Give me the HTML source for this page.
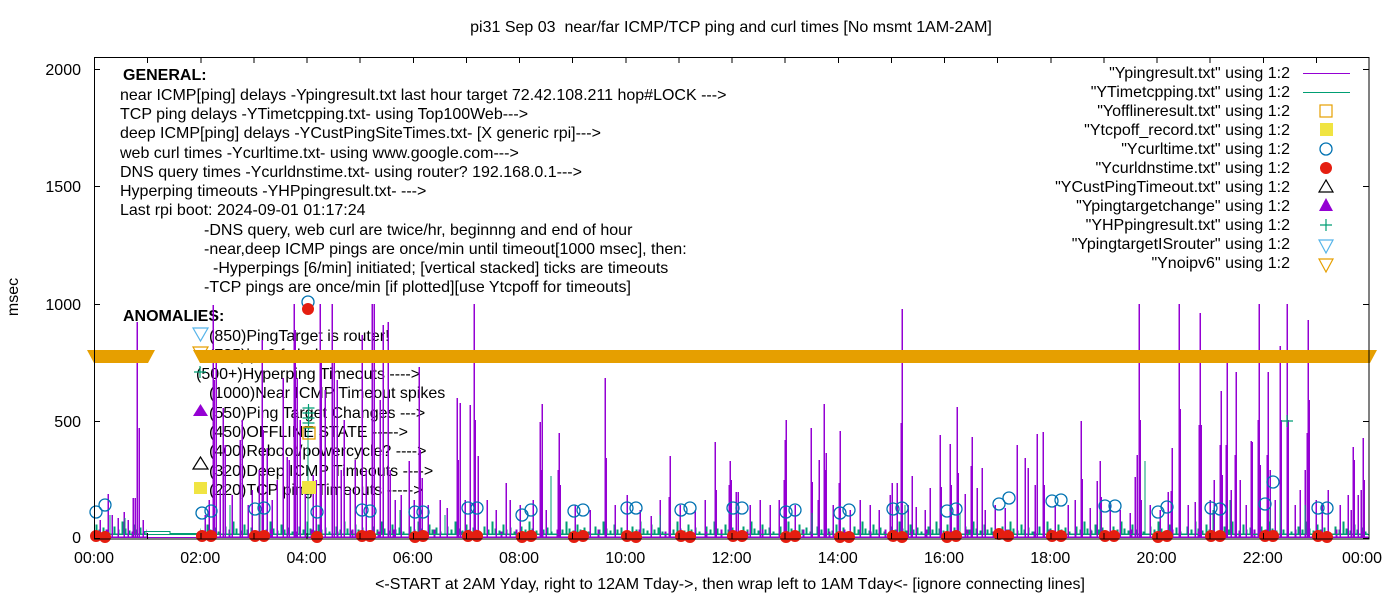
<!DOCTYPE html>
<html><head><meta charset="utf-8"><style>
html,body{margin:0;padding:0;background:#fff;}
svg{display:block;}
text{font-family:"Liberation Sans",Arial,sans-serif;font-size:16px;fill:#000;white-space:pre;}
</style></head><body>
<svg width="1400" height="600" viewBox="0 0 1400 600" xmlns="http://www.w3.org/2000/svg">
<defs>
<pattern id="gn" patternUnits="userSpaceOnUse" x="0" y="500" width="37" height="40">
<path d="M0 34 H3 V27 H4 V34 H7 V30 H8 V34 H11 V22 H12 V34 H14 V29 H15 V34 H18 V31 H19 V34 H22 V25 H23 V34 H25 V30 H26 V34 H29 V28 H30 V34 H33 V32 H34 V34 H37" fill="none" stroke="#009E73" stroke-width="1" shape-rendering="crispEdges"/>
</pattern>
<pattern id="pn" patternUnits="userSpaceOnUse" x="0" y="500" width="41" height="40">
<path d="M0 37 H9 V32 H10 V37 H24 V30 H25 V37 H41" fill="none" stroke="#9400D3" stroke-width="1" shape-rendering="crispEdges"/>
</pattern>
</defs>
<rect width="1400" height="600" fill="#fff"/>

<!-- title and axis labels -->
<text x="731" y="32" text-anchor="middle">pi31 Sep 03  near/far ICMP/TCP ping and curl times [No msmt 1AM-2AM]</text>
<text x="730" y="589" text-anchor="middle">&lt;-START at 2AM Yday, right to 12AM Tday-&gt;, then wrap left to 1AM Tday&lt;- [ignore connecting lines]</text>
<text transform="translate(18,297) rotate(-90)" text-anchor="middle">msec</text>

<!-- y tick labels -->
<text x="81" y="75" text-anchor="end">2000</text>
<text x="81" y="192" text-anchor="end">1500</text>
<text x="81" y="310" text-anchor="end">1000</text>
<text x="81" y="427" text-anchor="end">500</text>
<text x="81" y="543" text-anchor="end">0</text>

<!-- x tick labels -->
<g text-anchor="middle">
<text x="94" y="563">00:00</text>
<text x="200.25" y="563">02:00</text>
<text x="306.5" y="563">04:00</text>
<text x="412.75" y="563">06:00</text>
<text x="519" y="563">08:00</text>
<text x="625.25" y="563">10:00</text>
<text x="731.5" y="563">12:00</text>
<text x="837.75" y="563">14:00</text>
<text x="944" y="563">16:00</text>
<text x="1050.25" y="563">18:00</text>
<text x="1156.5" y="563">20:00</text>
<text x="1262.75" y="563">22:00</text>
<text x="1362" y="563">00:00</text>
</g>

<!-- info text -->
<text x="123" y="80" font-weight="bold">GENERAL:</text>
<text x="120" y="100">near ICMP[ping] delays -Ypingresult.txt last hour target 72.42.108.211 hop#LOCK ---&gt;</text>
<text x="120" y="119">TCP ping delays -YTimetcpping.txt- using Top100Web---&gt;</text>
<text x="120" y="138">deep ICMP[ping] delays -YCustPingSiteTimes.txt- [X generic rpi]---&gt;</text>
<text x="120" y="158">web curl times -Ycurltime.txt- using www.google.com---&gt;</text>
<text x="120" y="177">DNS query times -Ycurldnstime.txt- using router? 192.168.0.1---&gt;</text>
<text x="120" y="196">Hyperping timeouts -YHPpingresult.txt- ---&gt;</text>
<text x="120" y="215">Last rpi boot: 2024-09-01 01:17:24</text>
<text x="204" y="235">-DNS query, web curl are twice/hr, beginnng and end of hour</text>
<text x="204" y="254">-near,deep ICMP pings are once/min until timeout[1000 msec], then:</text>
<text x="213" y="273">-Hyperpings [6/min] initiated; [vertical stacked] ticks are timeouts</text>
<text x="204" y="292">-TCP pings are once/min [if plotted][use Ytcpoff for timeouts]</text>
<text x="123" y="321" font-weight="bold">ANOMALIES:</text>
<text x="209" y="341">(850)PingTarget is router!</text>
<text x="209" y="360">(785)ipv6 failed ----&gt;</text>
<text x="196" y="379">(500+)Hyperping Timeouts ----&gt;</text>
<text x="209" y="398">(1000)Near ICMP Timeout spikes</text>
<text x="209" y="418">(550)Ping Target Changes ---&gt;</text>
<text x="209" y="437">(450)OFFLINE STATE -----&gt;</text>
<text x="209" y="456">(400)Reboot/powercycle? ----&gt;</text>
<text x="209" y="476">(320)Deep ICMP Timeouts ----&gt;</text>
<text x="209" y="495">(220)TCP ping Timeouts -----&gt;</text>

<!-- left legend markers -->
<polygon points="193,328 208,328 200.5,341" fill="none" stroke="#56B4E9" stroke-width="1.2"/>
<polygon points="193,347 208,347 200.5,360" fill="none" stroke="#E69F00" stroke-width="1.2"/>
<path d="M194 372 H206 M200 366 V378" stroke="#009E73" stroke-width="1.2"/>
<polygon points="200.5,404 193,416 208,416" fill="#9400D3"/>
<polygon points="200.5,457 193,469 208,469" fill="none" stroke="#000" stroke-width="1.2"/>
<rect x="194" y="482" width="13" height="12" fill="#F0E442"/>

<!-- right legend -->
<g text-anchor="end">
<text x="1290" y="78">"Ypingresult.txt" using 1:2</text>
<text x="1290" y="97">"YTimetcpping.txt" using 1:2</text>
<text x="1290" y="116">"Yofflineresult.txt" using 1:2</text>
<text x="1290" y="135">"Ytcpoff_record.txt" using 1:2</text>
<text x="1290" y="154">"Ycurltime.txt" using 1:2</text>
<text x="1290" y="173">"Ycurldnstime.txt" using 1:2</text>
<text x="1290" y="192">"YCustPingTimeout.txt" using 1:2</text>
<text x="1290" y="211">"Ypingtargetchange" using 1:2</text>
<text x="1290" y="230">"YHPpingresult.txt" using 1:2</text>
<text x="1290" y="249">"YpingtargetISrouter" using 1:2</text>
<text x="1290" y="268">"Ynoipv6" using 1:2</text>
</g>
<path d="M1303 73.5 H1350" stroke="#9400D3" stroke-width="1" shape-rendering="crispEdges"/>
<path d="M1303 92.5 H1350" stroke="#009E73" stroke-width="1" shape-rendering="crispEdges"/>
<rect x="1320" y="105" width="12" height="12" fill="none" stroke="#E69F00" stroke-width="1.2"/>
<rect x="1320" y="123" width="13" height="13" fill="#F0E442"/>
<circle cx="1326" cy="149" r="6" fill="none" stroke="#0072B2" stroke-width="1.3"/>
<circle cx="1326" cy="168" r="6" fill="#E51E10"/>
<polygon points="1326,180 1319,192 1333,192" fill="none" stroke="#000" stroke-width="1.2"/>
<polygon points="1326,198 1319,211 1333,211" fill="#9400D3"/>
<path d="M1320 225 H1332 M1326 219 V231" stroke="#009E73" stroke-width="1.2"/>
<polygon points="1319,240 1333,240 1326,253" fill="none" stroke="#56B4E9" stroke-width="1.2"/>
<polygon points="1319,259 1333,259 1326,272" fill="none" stroke="#E69F00" stroke-width="1.2"/>

<!-- noise baselines -->
<rect x="94" y="505" width="53" height="34" fill="url(#gn)"/>
<rect x="200" y="505" width="1168" height="34" fill="url(#gn)"/>
<rect x="94" y="505" width="53" height="34" fill="url(#pn)"/>
<rect x="200" y="505" width="1168" height="34" fill="url(#pn)"/>
<path d="M94 537.5 H1369" stroke="#9400D3" stroke-width="1" shape-rendering="crispEdges"/>
<path d="M94 534.5 H1369" stroke="#009E73" stroke-width="1" shape-rendering="crispEdges"/>
<path d="M143 531.5 H170 V533.5 H200" fill="none" stroke="#009E73" stroke-width="1" shape-rendering="crispEdges"/>

<!-- purple spikes -->
<path fill="none" stroke="#9400D3" stroke-width="1.5" shape-rendering="crispEdges" d="
M100 537V520M108 537V494M112 537V515M118 537V518M124 537V512M128 537V520M133 537V498M135 537V498M137 537V322M139 537V428M143 537V520
M205 537V515M209 537V500M213 537V305M214 537V380M216 537V362M220 537V490M223 537V408M225 537V445M232 537V495M240 537V440M242 537V420M248 537V505M252 537V490M259 537V470M262 537V340M263 537V430M267 537V448M272 537V500M277 537V480M283 537V378M287 537V457M289 537V460M294 537V304M295 537V330M297 537V378M300 537V420M305 537V490M313 537V475M316 537V480M320 537V304M321 537V360M325 537V390M332 537V304M334 537V355M337 537V380M341 537V470M344 537V420M350 537V490M355 537V460M362 537V335M366 537V470M372 537V304M374 537V304M380 537V400M383 537V325M388 537V322M390 537V470
M395 537V500M401 537V495M409 537V461M414 537V500M419 537V367M420 537V450M422 537V478M428 537V505M440 537V500M447 537V508M457 537V398M458 537V460M460 537V403M465 537V500M470 537V405M474 537V304M475 537V420M478 537V456M487 537V500M496 537V510M506 537V483M510 537V500M520 537V505M533 537V500M540 537V422M541 537V470M542 537V404M546 537V510M558 537V470M559 537V433M560 537V485M575 537V505M590 537V510M605 537V378M606 537V458M615 537V505M627 537V495M640 537V510M651 537V516M660 537V500M669 537V497M670 537V456M680 537V505M695 537V510M705 537V500M715 537V442M716 537V490M729 537V485M730 537V461M731 537V480M736 537V492M738 537V492M750 537V505M760 537V500M770 537V505
M779 537V500M784 537V480M785 537V440M786 537V420M795 537V505M811 537V428M812 537V482M818 537V500M819 537V460M824 537V404M825 537V470M826 537V453M833 537V505M839 537V483M840 537V431M850 537V510M860 537V500M870 537V505M879 537V510M890 537V495M892 537V483M897 537V483M901 537V423M902 537V309M908 537V505M912 537V476M916 537V507M925 537V510M930 537V488M940 537V435M941 537V487M950 537V444M951 537V485M957 537V407M958 537V473M965 537V494M971 537V466M972 537V437M977 537V488M982 537V468M985 537V510M995 537V505M1005 537V508M1017 537V445M1025 537V458M1028 537V468M1035 537V485M1037 537V434M1043 537V432M1044 537V485
M1055 537V505M1068 537V505M1075 537V500M1081 537V421M1082 537V479M1090 537V508M1097 537V481M1100 537V461M1101 537V497M1110 537V505M1120 537V510M1130 537V513M1135 537V477M1137 537V455M1139 537V304M1140 537V420M1141 537V500M1150 537V505M1160 537V510M1168 537V492M1171 537V491M1172 537V448M1179 537V304M1180 537V409M1188 537V505M1195 537V502M1199 537V425M1200 537V313M1201 537V425M1210 537V500M1214 537V480M1220 537V445M1221 537V391M1222 537V475M1226 537V445M1227 537V363M1231 537V490M1235 537V455M1236 537V372
M1240 537V480M1246 537V505M1251 537V441M1252 537V442M1258 537V420M1259 537V304M1260 537V465M1267 537V455M1268 537V372M1270 537V470M1275 537V500M1280 537V346M1281 537V420M1287 537V304M1288 537V420M1295 537V505M1300 537V490M1305 537V470M1307 537V433M1308 537V320M1309 537V400M1316 537V500M1322 537V505M1328 537V490M1340 537V505M1348 537V495M1351 537V510M1353 537V447M1354 537V460M1358 537V495M1361 537V490M1363 537V438M1364 537V480"/>

<!-- green bigger spikes -->
<path fill="none" stroke="#009E73" stroke-width="1" shape-rendering="crispEdges" d="M551 534V476M1145 534V461M1280 534V500M1305 534V505M1230 534V500M308 537V430M1270 534V510M905 534V505M1213 534V510M110 534V515M125 534V518M230 534V505M260 534V512M400 534V510M445 534V515M660 534V515M812 534V513M960 534V514M1100 534V512"/>

<!-- hyperping plus stack at 04:00 -->
<path d="M308.5 404V430 M302.5 408H314.5 M302.5 413H314.5 M302.5 418H314.5 M302.5 423H314.5 M302.5 428H314.5" stroke="#009E73" stroke-width="1.2"/>
<path d="M1281 421H1293 M1287 415V427" stroke="#009E73" stroke-width="1.2"/>
<rect x="303" y="427" width="12" height="12" fill="none" stroke="#E69F00" stroke-width="1.3"/>
<rect x="302" y="481" width="14" height="13" fill="#F0E442"/>

<!-- blue curl circles -->
<g fill="none" stroke="#0072B2" stroke-width="1.3">
<circle cx="96" cy="512" r="6"/><circle cx="105" cy="505" r="6"/>
<circle cx="202" cy="513" r="6"/><circle cx="211" cy="511" r="6"/>
<circle cx="255" cy="509" r="6"/><circle cx="264" cy="508" r="6"/>
<circle cx="308" cy="302" r="6"/><circle cx="317" cy="512" r="6"/>
<circle cx="362" cy="510" r="6"/><circle cx="370" cy="511" r="6"/>
<circle cx="415" cy="512" r="6"/><circle cx="423" cy="512" r="6"/>
<circle cx="468" cy="508" r="6"/><circle cx="477" cy="508" r="6"/>
<circle cx="522" cy="515" r="6"/><circle cx="531" cy="510" r="6"/>
<circle cx="574" cy="511" r="6"/><circle cx="583" cy="510" r="6"/>
<circle cx="627" cy="508" r="6"/><circle cx="636" cy="508" r="6"/>
<circle cx="681" cy="510" r="6"/><circle cx="690" cy="508" r="6"/>
<circle cx="733" cy="508" r="6"/><circle cx="742" cy="508" r="6"/>
<circle cx="786" cy="512" r="6"/><circle cx="795" cy="510" r="6"/>
<circle cx="840" cy="513" r="6"/><circle cx="849" cy="510" r="6"/>
<circle cx="893" cy="509" r="6"/><circle cx="902" cy="508" r="6"/>
<circle cx="947" cy="511" r="6"/><circle cx="956" cy="509" r="6"/>
<circle cx="999" cy="504" r="6"/><circle cx="1009" cy="498" r="6"/>
<circle cx="1052" cy="501" r="6"/><circle cx="1061" cy="500" r="6"/>
<circle cx="1105" cy="506" r="6"/><circle cx="1115" cy="506" r="6"/>
<circle cx="1158" cy="512" r="6"/><circle cx="1167" cy="507" r="6"/>
<circle cx="1211" cy="508" r="6"/><circle cx="1220" cy="509" r="6"/>
<circle cx="1265" cy="504" r="6"/><circle cx="1273" cy="482" r="6"/>
<circle cx="1318" cy="508" r="6"/><circle cx="1327" cy="508" r="6"/>
</g>

<!-- red dns dots -->
<g fill="#E51E10">
<circle cx="96" cy="536" r="6"/><circle cx="105" cy="537" r="6"/>
<circle cx="202" cy="536" r="6"/><circle cx="211" cy="536" r="6"/>
<circle cx="255" cy="536" r="6"/><circle cx="264" cy="536" r="6"/>
<circle cx="308" cy="309" r="6"/><circle cx="317" cy="537" r="6"/>
<circle cx="362" cy="536" r="6"/><circle cx="370" cy="536" r="6"/>
<circle cx="415" cy="537" r="6"/><circle cx="423" cy="536" r="6"/>
<circle cx="468" cy="536" r="6"/><circle cx="477" cy="536" r="6"/>
<circle cx="522" cy="537" r="6"/><circle cx="531" cy="536" r="6"/>
<circle cx="574" cy="537" r="6"/><circle cx="583" cy="536" r="6"/>
<circle cx="627" cy="536" r="6"/><circle cx="636" cy="537" r="6"/>
<circle cx="681" cy="536" r="6"/><circle cx="690" cy="537" r="6"/>
<circle cx="733" cy="536" r="6"/><circle cx="742" cy="536" r="6"/>
<circle cx="786" cy="537" r="6"/><circle cx="795" cy="536" r="6"/>
<circle cx="840" cy="537" r="6"/><circle cx="849" cy="537" r="6"/>
<circle cx="893" cy="536" r="6"/><circle cx="902" cy="537" r="6"/>
<circle cx="947" cy="537" r="6"/><circle cx="956" cy="536" r="6"/>
<circle cx="999" cy="534" r="6"/><circle cx="1008" cy="536" r="6"/>
<circle cx="1052" cy="536" r="6"/><circle cx="1061" cy="536" r="6"/>
<circle cx="1105" cy="536" r="6"/><circle cx="1114" cy="536" r="6"/>
<circle cx="1158" cy="537" r="6"/><circle cx="1167" cy="536" r="6"/>
<circle cx="1211" cy="536" r="6"/><circle cx="1220" cy="536" r="6"/>
<circle cx="1265" cy="536" r="6"/><circle cx="1273" cy="536" r="6"/>
<circle cx="1318" cy="536" r="6"/><circle cx="1327" cy="537" r="6"/>
</g>

<!-- Ynoipv6 band -->
<polygon points="87,350 155,350 148,363 94,363" fill="#E69F00"/>
<polygon points="193,350 1377,350 1370,363 200,363" fill="#E69F00"/>

<!-- border and ticks -->
<rect x="94.5" y="57.5" width="1274.5" height="481.5" fill="none" stroke="#000" stroke-width="1"/>
<path stroke="#000" stroke-width="1" shape-rendering="crispEdges" d="
M94 69.5H100M94 186.5H100M94 304.5H100M94 421.5H100M94 538.5H100
M1369 69.5H1363M1369 186.5H1363M1369 304.5H1363M1369 421.5H1363M1369 538.5H1363
M147.6 57V63M200.75 57V63M253.9 57V63M307 57V63M360.1 57V63M413.25 57V63M466.4 57V63M519.5 57V63M572.6 57V63M625.75 57V63M678.9 57V63M732 57V63M785.1 57V63M838.25 57V63M891.4 57V63M944.5 57V63M997.6 57V63M1050.75 57V63M1103.9 57V63M1157 57V63M1210.1 57V63M1263.25 57V63M1316.4 57V63
M147.6 539V533M200.75 539V533M253.9 539V533M307 539V533M360.1 539V533M413.25 539V533M466.4 539V533M519.5 539V533M572.6 539V533M625.75 539V533M678.9 539V533M732 539V533M785.1 539V533M838.25 539V533M891.4 539V533M944.5 539V533M997.6 539V533M1050.75 539V533M1103.9 539V533M1157 539V533M1210.1 539V533M1263.25 539V533M1316.4 539V533"/>
</svg>
</body></html>
